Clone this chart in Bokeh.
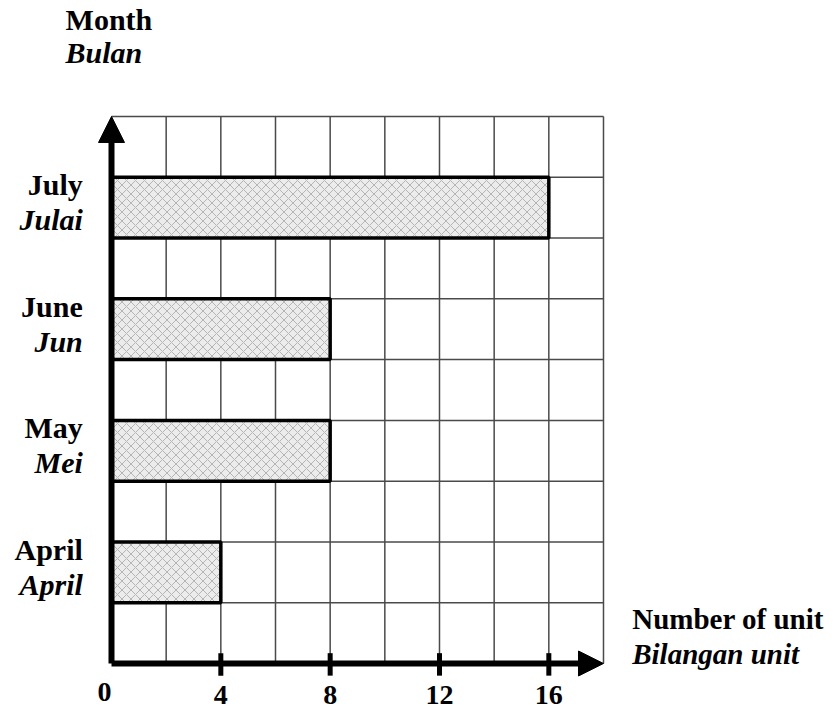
from bokeh.plotting import figure
from bokeh.models import Range1d, Arrow, NormalHead
from bokeh.core.properties import value
from bokeh.embed import file_html
from bokeh.resources import INLINE

# ---- data ----
months_en = ["April", "May", "June", "July"]
months_ms = ["April", "Mei", "Jun", "Julai"]
units = [4, 8, 8, 16]
tick_values = [0, 4, 8, 12, 16]
tick_labels = ["0", "4", "8", "12", "16"]
x_max = 18
y_max = 9

# bar centres: one empty row between bars
bar_y = [2 * i + 1.5 for i in range(len(months_en))]

W, H = 831, 711
# canvas mapping (frame covers whole canvas)
px_x = 27.333   # pixels per unit
px_y = 60.78    # pixels per row
x0_pix = 111    # canvas pixel of x=0
y0_pix = 663    # canvas pixel of y=0

x_start = -x0_pix / px_x
x_end = (W - x0_pix) / px_x
y_end = y0_pix / px_y
y_start = -(H - y0_pix) / px_y

p = figure(width=W, height=H, output_backend="svg", toolbar_location=None,
           x_range=Range1d(x_start, x_end), y_range=Range1d(y_start, y_end),
           x_axis_type=None, y_axis_type=None, min_border=0)
p.outline_line_color = None
p.grid.visible = False
p.background_fill_color = "white"
p.border_fill_color = "white"

# grid
gx = list(range(2, x_max + 1, 2))
p.segment(x0=gx, y0=[0] * len(gx), x1=gx, y1=[y_max] * len(gx),
          line_color="#4a4a4a", line_width=1.5)
gy = list(range(1, y_max + 1))
p.segment(x0=[0] * len(gy), y0=gy, x1=[x_max] * len(gy), y1=gy,
          line_color="#4a4a4a", line_width=1.5)

# bars
p.hbar(y=bar_y, left=0, right=units, height=1,
       fill_color="#ececec", line_color="black", line_width=3.5,
       hatch_pattern="diagonal_cross", hatch_color="#8f8f8f",
       hatch_scale=9, hatch_weight=1, hatch_alpha=0.6)

# axes with arrows
p.add_layout(Arrow(x_start=0, y_start=0, x_end=x_max, y_end=0,
                   line_width=6, line_color="black",
                   end=NormalHead(size=25, fill_color="black", line_color="black")))
p.add_layout(Arrow(x_start=0, y_start=0, x_end=0, y_end=y_max,
                   line_width=6, line_color="black",
                   end=NormalHead(size=26, fill_color="black", line_color="black")))

# tick marks
tv = tick_values[1:]
p.segment(x0=tv, y0=[0.17] * len(tv), x1=tv, y1=[-0.2] * len(tv),
          line_color="black", line_width=5)

font = value("Liberation Serif")

# tick labels
p.text(x=tick_values[:1], y=[0], text=tick_labels[:1],
       text_font=font, text_font_style="bold", text_font_size="28px",
       text_align="center", text_baseline="alphabetic",
       x_offset=-7, y_offset=28, text_color="black")
p.text(x=tick_values[1:], y=[0] * (len(tick_values) - 1), text=tick_labels[1:],
       text_font=font, text_font_style="bold", text_font_size="28px",
       text_align="center", text_baseline="alphabetic",
       y_offset=31, text_color="black")

# month labels
p.text(x=[-1.05] * len(months_en), y=bar_y, text=months_en,
       text_font=font, text_font_style="bold", text_font_size="30px",
       text_align="right", text_baseline="alphabetic", y_offset=-23,
       text_color="black")
p.text(x=[-1.05] * len(months_ms), y=bar_y, text=months_ms,
       text_font=font, text_font_style="bold italic", text_font_size="30px",
       text_align="right", text_baseline="alphabetic", y_offset=12,
       text_color="black")

# axis titles
p.text(x=[-1.68, -1.68], y=[y_max, y_max], text=["Month", "Bulan"],
       text_font=font, text_font_style=["bold", "bold italic"],
       text_font_size="30px", text_align="left", text_baseline="alphabetic",
       y_offset=[-97, -64], text_color="black")
p.text(x=[19.05, 19.05], y=[0, 0], text=["Number of unit", "Bilangan unit"],
       text_font=font, text_font_style=["bold", "bold italic"],
       text_font_size="29px", text_align="left", text_baseline="alphabetic",
       y_offset=[-45, -10], text_color="black")

open("out.html", "w").write(file_html(p, INLINE))
